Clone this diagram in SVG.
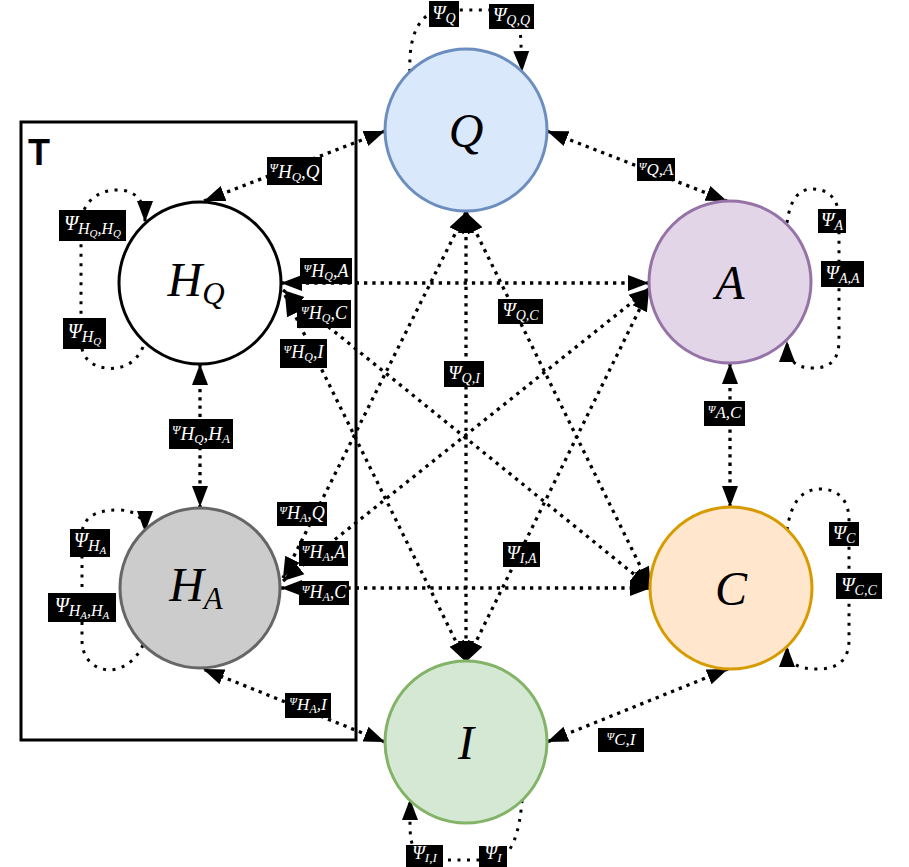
<svg xmlns="http://www.w3.org/2000/svg" width="909" height="867" viewBox="0 0 909 867">
<defs>
<marker id="ah" markerUnits="userSpaceOnUse" markerWidth="24" markerHeight="18" refX="21" refY="9" orient="auto-start-reverse" viewBox="0 0 24 18"><path d="M0,1 L21,9 L0,17 z" fill="#000"/></marker>
<style>
.e{fill:none;stroke:#000;stroke-width:3.3;stroke-dasharray:3.3 5;marker-start:url(#ah);marker-end:url(#ah)}
.lp{fill:none;stroke:#000;stroke-width:3;stroke-dasharray:3 6.5;marker-end:url(#ah)}
.nl{font-family:"Liberation Serif",serif;font-style:italic;font-size:48px;text-anchor:middle;fill:#000}
.bx{fill:#000}
.lt{font-family:"Liberation Serif",serif;font-style:italic;fill:#fff;text-anchor:middle}
.nc{stroke-width:3}
</style>
</defs>
<rect width="909" height="867" fill="#fff"/>
<g id="group-T">
<rect x="21" y="122" width="335" height="618" fill="none" stroke="#000" stroke-width="3"/>
<text x="28" y="165" font-family="Liberation Sans,Arial,sans-serif" font-weight="bold" font-size="36">T</text>
</g>
<g id="connectors">
<path class="e" d="M385,131 L204,201"/>
<path class="e" d="M547,131 L727,201"/>
<path class="e" d="M730,363 L730,507"/>
<path class="e" d="M728,669 L547,742"/>
<path class="e" d="M385,742 L203,669"/>
<path class="e" d="M200,364 L200,507"/>
<path class="e" d="M281,283 L649,283"/>
<path class="e" d="M283,290 L651,588"/>
<path class="e" d="M285,295 L466,662"/>
<path class="e" d="M466,212 L651,588"/>
<path class="e" d="M466,212 L466,662"/>
<path class="e" d="M466,212 L283,578"/>
<path class="e" d="M283,581 L650,288"/>
<path class="e" d="M281,588 L651,588"/>
<path class="e" d="M466,662 L649,290"/>
<path class="lp" d="M410,72 C408,35 420,10 445,10 L500,10 C515,10 521,25 521,45 L522,72"/>
<path class="lp" d="M787,223 C790,198 800,189 812,189 C830,189 839,200 839,220 L839,340 C839,360 830,368 813,368 C797,368 787,362 787,341"/>
<path class="lp" d="M787,530 C791,502 802,489 820,489 C838,489 849,500 849,520 L849,640 C849,660 838,669 818,669 C798,669 787,664 787,646"/>
<path class="lp" d="M522,800 C520,830 512,858 495,860 L430,860 C415,860 410,845 410,825 L410,799"/>
<path class="lp" d="M143,347 C135,365 120,370 105,368 C88,365 81,355 81,340 L81,225 C81,205 95,190 118,190 C135,190 145,200 145,222"/>
<path class="lp" d="M143,645 C135,662 122,670 108,670 C90,668 82,655 82,640 L82,535 C82,518 95,510 118,510 C135,510 145,518 145,532"/>
</g>
<g id="node-Q"><circle class="nc" cx="466" cy="130" r="81" fill="#dae8fc" stroke="#6c8ebf"/><text class="nl" x="466" y="147">Q</text></g>
<g id="node-HQ"><circle class="nc" cx="200" cy="283" r="81" fill="#fff" stroke="#000"/><text class="nl" x="196" y="296">H<tspan font-size="31" dy="8">Q</tspan></text></g>
<g id="node-A"><circle class="nc" cx="730" cy="282" r="81" fill="#e1d5e7" stroke="#9673a6"/><text class="nl" x="730" y="299">A</text></g>
<g id="node-HA"><circle class="nc" cx="200" cy="588" r="80" fill="#cccccc" stroke="#666666"/><text class="nl" x="196" y="601" fill="#333">H<tspan font-size="31" dy="8">A</tspan></text></g>
<g id="node-C"><circle class="nc" cx="731" cy="588" r="81" fill="#ffe6cc" stroke="#d79b00"/><text class="nl" x="731" y="605">C</text></g>
<g id="node-I"><circle class="nc" cx="466" cy="742" r="81" fill="#d5e8d4" stroke="#82b366"/><text class="nl" x="466" y="759">I</text></g>
<g id="edge-labels">
<rect class="bx" x="267" y="157" width="55" height="28"/><text class="lt" x="294.5" y="178"><tspan font-size="12" dy="-6">Ψ</tspan><tspan font-size="19" dy="6">H</tspan><tspan font-size="13" dy="3">Q</tspan><tspan font-size="19" dy="-3">,Q</tspan></text>
<rect class="bx" x="637" y="158" width="38" height="23"/><text class="lt" x="656" y="175"><tspan font-size="11" dy="-5">Ψ</tspan><tspan font-size="17" dy="5">Q,A</tspan></text>
<rect class="bx" x="704" y="401" width="41" height="25"/><text class="lt" x="724.5" y="418"><tspan font-size="11" dy="-5">Ψ</tspan><tspan font-size="17" dy="5">A,C</tspan></text>
<rect class="bx" x="598" y="728" width="46" height="24"/><text class="lt" x="621" y="745"><tspan font-size="11" dy="-5">Ψ</tspan><tspan font-size="17" dy="5">C,I</tspan></text>
<rect class="bx" x="285" y="693" width="46" height="25"/><text class="lt" x="308" y="710"><tspan font-size="11" dy="-5">Ψ</tspan><tspan font-size="17" dy="5">H</tspan><tspan font-size="12" dy="3">A</tspan><tspan font-size="17" dy="-3">,I</tspan></text>
<rect class="bx" x="169" y="419" width="64" height="30"/><text class="lt" x="201" y="440"><tspan font-size="12" dy="-6">Ψ</tspan><tspan font-size="19" dy="6">H</tspan><tspan font-size="13" dy="3">Q</tspan><tspan font-size="19" dy="-3">,H</tspan><tspan font-size="13" dy="3">A</tspan></text>
<rect class="bx" x="300" y="258" width="52" height="26"/><text class="lt" x="326" y="277"><tspan font-size="11" dy="-5">Ψ</tspan><tspan font-size="18" dy="5">H</tspan><tspan font-size="12" dy="3">Q</tspan><tspan font-size="18" dy="-3">,A</tspan></text>
<rect class="bx" x="297" y="300" width="54" height="28"/><text class="lt" x="324" y="319"><tspan font-size="11" dy="-5">Ψ</tspan><tspan font-size="18" dy="5">H</tspan><tspan font-size="12" dy="3">Q</tspan><tspan font-size="18" dy="-3">,C</tspan></text>
<rect class="bx" x="280" y="339" width="47" height="29"/><text class="lt" x="303.5" y="358"><tspan font-size="11" dy="-5">Ψ</tspan><tspan font-size="18" dy="5">H</tspan><tspan font-size="12" dy="3">Q</tspan><tspan font-size="18" dy="-3">,I</tspan></text>
<rect class="bx" x="277" y="502" width="50" height="24"/><text class="lt" x="302" y="519"><tspan font-size="11" dy="-5">Ψ</tspan><tspan font-size="18" dy="5">H</tspan><tspan font-size="12" dy="3">A</tspan><tspan font-size="18" dy="-3">,Q</tspan></text>
<rect class="bx" x="299" y="541" width="49" height="25"/><text class="lt" x="323.5" y="558"><tspan font-size="11" dy="-5">Ψ</tspan><tspan font-size="18" dy="5">H</tspan><tspan font-size="12" dy="3">A</tspan><tspan font-size="18" dy="-3">,A</tspan></text>
<rect class="bx" x="299" y="581" width="50" height="24"/><text class="lt" x="324" y="598"><tspan font-size="11" dy="-5">Ψ</tspan><tspan font-size="18" dy="5">H</tspan><tspan font-size="12" dy="3">A</tspan><tspan font-size="18" dy="-3">,C</tspan></text>
<rect class="bx" x="429" y="1" width="30" height="26"/><text class="lt" x="444" y="19"><tspan font-size="19">Ψ</tspan><tspan font-size="14" dy="4">Q</tspan></text>
<rect class="bx" x="489" y="4" width="45" height="25"/><text class="lt" x="511.5" y="21"><tspan font-size="19">Ψ</tspan><tspan font-size="14" dy="4">Q,Q</tspan></text>
<rect class="bx" x="818" y="209" width="28" height="24"/><text class="lt" x="832" y="226"><tspan font-size="19">Ψ</tspan><tspan font-size="14" dy="4">A</tspan></text>
<rect class="bx" x="821" y="261" width="43" height="26"/><text class="lt" x="842.5" y="279"><tspan font-size="19">Ψ</tspan><tspan font-size="14" dy="4">A,A</tspan></text>
<rect class="bx" x="829" y="522" width="30" height="24"/><text class="lt" x="844" y="539"><tspan font-size="19">Ψ</tspan><tspan font-size="14" dy="4">C</tspan></text>
<rect class="bx" x="836" y="573" width="46" height="26"/><text class="lt" x="859" y="591"><tspan font-size="19">Ψ</tspan><tspan font-size="14" dy="4">C,C</tspan></text>
<rect class="bx" x="406" y="845" width="37" height="22"/><text class="lt" x="424.5" y="859"><tspan font-size="18">Ψ</tspan><tspan font-size="13" dy="3">I,I</tspan></text>
<rect class="bx" x="479" y="846" width="28" height="21"/><text class="lt" x="493" y="859"><tspan font-size="18">Ψ</tspan><tspan font-size="13" dy="3">I</tspan></text>
<rect class="bx" x="59" y="210" width="67" height="31"/><text class="lt" x="92.5" y="230"><tspan font-size="20">Ψ</tspan><tspan font-size="16" dy="4">H</tspan><tspan font-size="11" dy="3">Q</tspan><tspan font-size="16" dy="-3">,H</tspan><tspan font-size="11" dy="3">Q</tspan></text>
<rect class="bx" x="63" y="318" width="43" height="31"/><text class="lt" x="84.5" y="338"><tspan font-size="20">Ψ</tspan><tspan font-size="16" dy="4">H</tspan><tspan font-size="11" dy="3">Q</tspan></text>
<rect class="bx" x="70" y="529" width="40" height="28"/><text class="lt" x="90" y="547"><tspan font-size="20">Ψ</tspan><tspan font-size="16" dy="4">H</tspan><tspan font-size="11" dy="3">A</tspan></text>
<rect class="bx" x="48" y="593" width="68" height="29"/><text class="lt" x="82" y="612"><tspan font-size="20">Ψ</tspan><tspan font-size="16" dy="4">H</tspan><tspan font-size="11" dy="3">A</tspan><tspan font-size="16" dy="-3">,H</tspan><tspan font-size="11" dy="3">A</tspan></text>
<rect class="bx" x="498" y="299" width="45" height="25"/><text class="lt" x="520.5" y="316"><tspan font-size="19">Ψ</tspan><tspan font-size="14" dy="4">Q,C</tspan></text>
<rect class="bx" x="444" y="361" width="40" height="26"/><text class="lt" x="464" y="379"><tspan font-size="19">Ψ</tspan><tspan font-size="14" dy="4">Q,I</tspan></text>
<rect class="bx" x="503" y="542" width="37" height="25"/><text class="lt" x="521.5" y="559"><tspan font-size="19">Ψ</tspan><tspan font-size="14" dy="4">I,A</tspan></text>
</g>
</svg>
